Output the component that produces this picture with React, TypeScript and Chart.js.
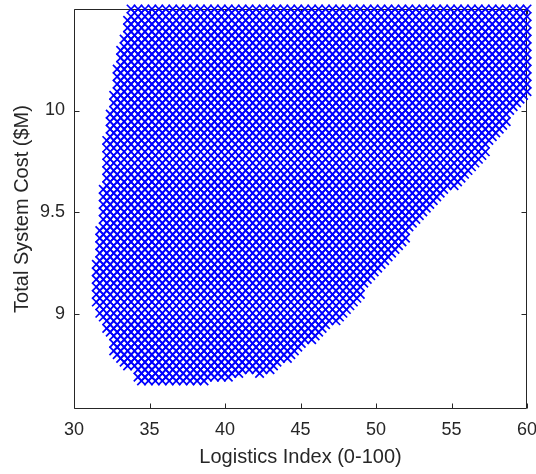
import { useEffect, useRef } from "react";
import { Chart, registerables } from "chart.js";

Chart.register(...registerables);

// Axis limits and tick values
const xLimits = [30, 60];
const yLimits = [8.53, 10.5];
const xTicks = [30, 35, 40, 45, 50, 55, 60];
const yTicks = [9, 9.5, 10];

// Outline of the feasible design region (logistics index vs. total cost)
const boundaryLogistics = [
  33.64, 32.85, 32.19, 31.85, 31.46, 31.26, 31.66, 32.32, 32.65, 33.97, 34.3,
  37.88, 40.79, 41.46, 42.19, 43.18, 44.3, 45.83, 47.42, 48.74, 50.26, 51.79,
  53.38, 55.56, 57.35, 58.68, 60.0, 60.0,
];
const boundaryCost = [
  10.5, 10.215, 9.89, 9.56, 9.23, 9.1, 8.98, 8.91, 8.79, 8.72, 8.665,
  8.655, 8.69, 8.725, 8.7, 8.725, 8.785, 8.875, 8.965, 9.075, 9.205, 9.355,
  9.505, 9.655, 9.805, 9.95, 10.08, 10.5,
];

// Sweep resolution of the design study
const logisticsStep = 0.46;
const costStep = 0.0185;

function insideRegion(x: number, y: number): boolean {
  let inside = false;
  const n = boundaryLogistics.length;
  for (let i = 0, j = n - 1; i < n; j = i++) {
    const xi = boundaryLogistics[i], yi = boundaryCost[i];
    const xj = boundaryLogistics[j], yj = boundaryCost[j];
    if (yi > y !== yj > y && x < ((xj - xi) * (y - yi)) / (yj - yi) + xi) {
      inside = !inside;
    }
  }
  return inside;
}

function buildDesigns() {
  const pts: { x: number; y: number }[] = [];
  const minCost = Math.min(...boundaryCost);
  const eps = 1e-6;
  for (let j = 0; ; j++) {
    const y = yLimits[1] - eps - j * costStep;
    if (y < minCost - costStep) break;
    const shift = (j % 2) * (logisticsStep / 2);
    for (let x = xLimits[1] - eps - shift; x >= xLimits[0]; x -= logisticsStep) {
      if (insideRegion(x, y)) pts.push({ x, y: y + eps });
    }
  }
  return pts;
}

const AXIS_COLOR = "#262626";
const FONT = "'Liberation Sans', Arial, Helvetica, sans-serif";

const framePlugin = {
  id: "matlabFrame",
  beforeDatasetsDraw(chart: any) {
    const { ctx, chartArea: a, scales } = chart;
    ctx.save();
    ctx.strokeStyle = AXIS_COLOR;
    ctx.lineWidth = 1;
    const L = Math.round(a.left) + 0.5;
    const R = Math.round(a.right) - 0.5;
    const T = Math.round(a.top) + 0.5;
    const B = Math.round(a.bottom) - 0.5;
    ctx.beginPath();
    ctx.rect(L, T, R - L, B - T);
    const tl = 5;
    for (const v of xTicks) {
      const px = Math.round(scales.x.getPixelForValue(v)) + 0.5;
      ctx.moveTo(px, B);
      ctx.lineTo(px, B - tl);
      ctx.moveTo(px, T);
      ctx.lineTo(px, T + tl);
    }
    for (const v of yTicks) {
      const py = Math.round(scales.y.getPixelForValue(v)) + 0.5;
      ctx.moveTo(L, py);
      ctx.lineTo(L + tl, py);
      ctx.moveTo(R, py);
      ctx.lineTo(R - tl, py);
    }
    ctx.stroke();
    ctx.restore();
  },
  afterDraw(chart: any) {
    const { ctx, chartArea: a } = chart;
    ctx.save();
    ctx.fillStyle = AXIS_COLOR;
    ctx.font = `20px ${FONT}`;
    ctx.textAlign = "center";
    ctx.textBaseline = "middle";
    ctx.fillText("Logistics Index (0-100)", (a.left + a.right) / 2, 457);
    ctx.translate(22, (a.top + a.bottom) / 2);
    ctx.rotate(-Math.PI / 2);
    ctx.fillText("Total System Cost ($M)", 0, 0);
    ctx.restore();
  },
};

export default function App() {
  const canvasRef = useRef<HTMLCanvasElement | null>(null);

  useEffect(() => {
    const canvas = canvasRef.current;
    if (!canvas) return;
    const chart = new Chart(canvas, {
      type: "scatter",
      data: {
        datasets: [
          {
            data: buildDesigns(),
            pointStyle: "crossRot",
            pointRadius: 6,
            pointHoverRadius: 6,
            borderColor: "#0000ff",
            backgroundColor: "#0000ff",
            borderWidth: 1.7,
            clip: false as any,
          },
        ],
      },
      options: {
        responsive: false,
        animation: false,
        devicePixelRatio: 1,
        events: [],
        layout: { padding: { left: 0, right: 9, top: 9, bottom: 0 } },
        plugins: {
          legend: { display: false },
          tooltip: { enabled: false },
        },
        scales: {
          x: {
            type: "linear",
            min: xLimits[0],
            max: xLimits[1],
            grid: { display: false, drawTicks: false },
            border: { display: false },
            afterBuildTicks: (s: any) => {
              s.ticks = xTicks.map((v) => ({ value: v }));
            },
            afterFit: (s: any) => {
              s.height = 65;
              s.paddingLeft = 0;
              s.paddingRight = 0;
            },
            ticks: {
              color: AXIS_COLOR,
              font: { family: FONT, size: 18 },
              padding: 10,
              maxRotation: 0,
              autoSkip: false,
              callback: (v: any) => String(v),
            },
          },
          y: {
            type: "linear",
            min: yLimits[0],
            max: yLimits[1],
            grid: { display: false, drawTicks: false },
            border: { display: false },
            afterBuildTicks: (s: any) => {
              s.ticks = yTicks.map((v) => ({ value: v }));
            },
            afterFit: (s: any) => {
              s.width = 74;
              s.paddingTop = 0;
              s.paddingBottom = 0;
            },
            ticks: {
              color: AXIS_COLOR,
              font: { family: FONT, size: 18 },
              padding: 9,
              autoSkip: false,
              callback: (v: any) => String(v),
            },
          },
        },
      },
      plugins: [framePlugin],
    });
    return () => chart.destroy();
  }, []);

  return (
    <div style={{ position: "absolute", left: 0, top: 0, width: 536, height: 474, background: "#fff" }}>
      <canvas ref={canvasRef} width={536} height={474} />
    </div>
  );
}
